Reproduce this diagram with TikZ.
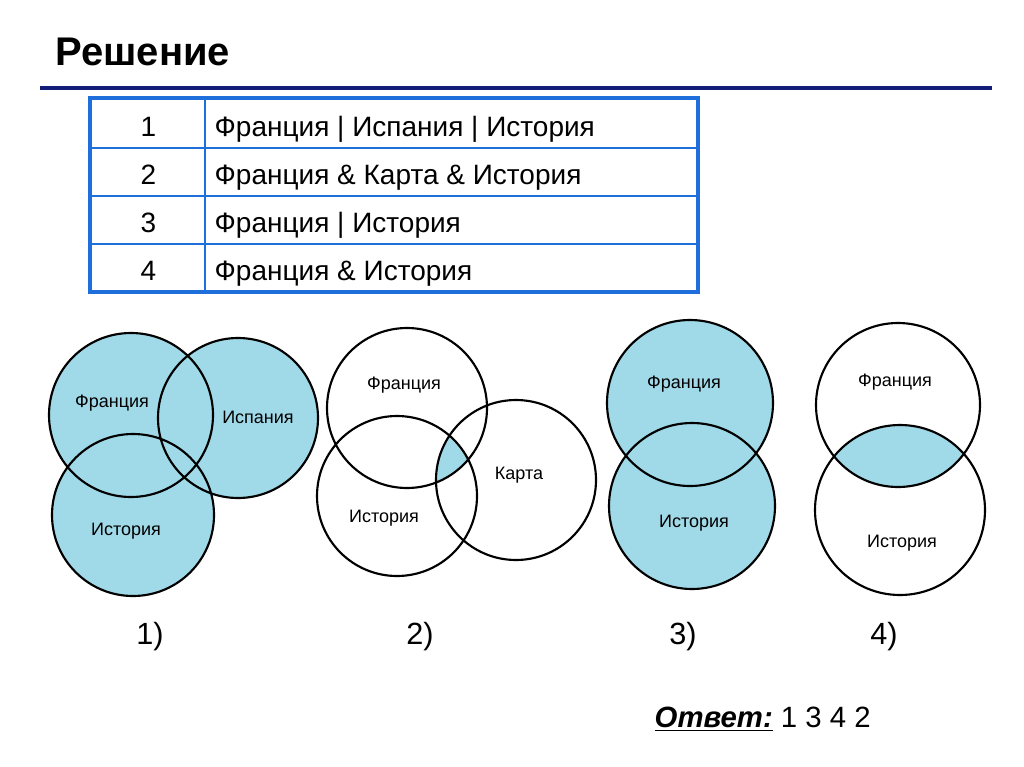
\documentclass[tikz,border=0pt]{standalone}
\usepackage{fontspec}
\setmainfont{Liberation Sans}
\definecolor{lb}{RGB}{160,218,232}
\definecolor{tb}{RGB}{30,110,220}
\definecolor{db}{RGB}{20,30,120}
\begin{document}
\begin{tikzpicture}[x=0.75pt,y=-0.75pt,
  circ/.style={draw=black,line width=1.6pt},
  lab/.style={font=\fontsize{13.5}{15}\selectfont},
  cell/.style={anchor=base west,font=\fontsize{21}{24}\selectfont}]
\useasboundingbox (0,0) rectangle (1024,767);
\node[anchor=west,font=\fontsize{30}{33}\selectfont\bfseries] (title) at (51,52) {Решение};
\draw[db,line width=2.5pt] (40,88) -- (992,88);
% table
\foreach \y in {148,196,244} \draw[tb,line width=1.5pt] (90,\y) -- (698,\y);
\draw[tb,line width=1.5pt] (205,98) -- (205,292);
\draw[tb,line width=3.5pt] (90,98) rectangle (698,292);
\node[cell] (n1) at (136,136) {1};
\node[cell] (n2) at (136,184) {2};
\node[cell] (n3) at (136,232) {3};
\node[cell] (n4) at (136,280) {4};
\node[cell] (t1) at (210,136) {Франция | Испания | История};
\node[cell] (t2) at (210,184) {Франция \& Карта \& История};
\node[cell] (t3) at (210,232) {Франция | История};
\node[cell] (t4) at (210,280) {Франция \& История};
% diagram 1
\fill[lb] (131,415) circle (82) (238,418) circle (80) (133,515) circle (81);
\draw[circ] (131,415) circle (82) (238,418) circle (80) (133,515) circle (81);
\node[lab] (a1) at (112,403) {Франция};
\node[lab] (a2) at (258,417) {Испания};
\node[lab] (a3) at (126,531) {История};
% diagram 2
\begin{scope}
\clip (407,408) circle (80);
\clip (516,480) circle (80);
\fill[lb] (397,496) circle (80);
\end{scope}
\draw[circ] (407,408) circle (80) (397,496) circle (80) (516,480) circle (80);
\node[lab] (b1) at (404,385) {Франция};
\node[lab] (b2) at (519,475) {Карта};
\node[lab] (b3) at (384,518) {История};
% diagram 3
\fill[lb] (690,403) circle (83) (692,506) circle (83);
\draw[circ] (690,403) circle (83) (692,506) circle (83);
\node[lab] (c1) at (684,384) {Франция};
\node[lab] (c2) at (694,523) {История};
% diagram 4
\begin{scope}
\clip (898,405) circle (82);
\fill[lb] (900,510) circle (85);
\end{scope}
\draw[circ] (898,405) circle (82) (900,510) circle (85);
\node[lab] (d1) at (895,382) {Франция};
\node[lab] (d2) at (902,543) {История};
% numbers
\node[font=\fontsize{23}{25}\selectfont] (l1) at (150,637) {1)};
\node[font=\fontsize{23}{25}\selectfont] (l2) at (420,637) {2)};
\node[font=\fontsize{23}{25}\selectfont] (l3) at (683,637) {3)};
\node[font=\fontsize{23}{25}\selectfont] (l4) at (884,637) {4)};
\node[anchor=west,font=\fontsize{22}{24}\selectfont] (ans) at (650,719) {\underline{\textbf{\textit{Ответ:}}} 1 3 4 2};
\end{tikzpicture}
\end{document}
